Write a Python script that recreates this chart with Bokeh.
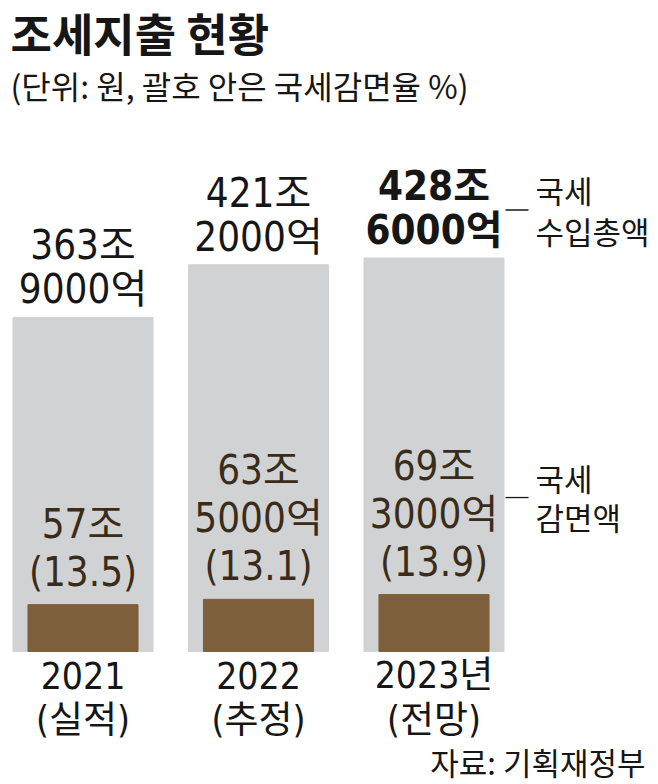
from bokeh.plotting import figure
from bokeh.models import Range1d, ColumnDataSource, Label
from bokeh.core.properties import value, field
from bokeh.embed import file_html
from bokeh.resources import INLINE

# ---- data ----
years = ["2021", "2022", "2023년"]
status = ["(실적)", "(추정)", "(전망)"]
revenue = [363.9, 421.2, 428.6]      # 국세 수입총액 (조 원)
reduction = [57.0, 63.5, 69.3]       # 국세 감면액 (조 원)
rate = [13.5, 13.1, 13.9]            # 국세감면율 (%)
highlight = [False, False, True]

# ---- layout ----
W, H = 658, 784
XS, XE = -0.4701, 3.2792
YS, YE = -144.9, 709.1
BS, BE = -161.8, 792.0
PXX = W / (XE - XS)
PXY = H / (YE - YS)
PXB = H / (BE - BS)

NARROW = "'Liberation Sans Narrow', 'DejaVu Sans Condensed', 'Noto Sans CJK KR'"
KR = "'Noto Sans CJK KR'"
GREY = "#d1d2d4"
BROWN = "#7e5f3b"
DARK = "#3a2c1a"
BLACK = "#161616"

p = figure(width=W, height=H, x_range=Range1d(XS, XE), y_range=Range1d(YS, YE),
           output_backend="svg", toolbar_location=None, min_border=0,
           x_axis_location=None, y_axis_location=None, outline_line_color=None,
           background_fill_color="white", border_fill_color="white")
p.extra_y_ranges = {"brown": Range1d(BS, BE)}
p.grid.visible = False

idx = list(range(len(years)))
p.vbar(x=idx, top=revenue, bottom=0, width=0.798, color=GREY)
p.vbar(x=idx, top=reduction, bottom=0, width=0.627, color=BROWN, y_range_name="brown")


def jo_eok(v):
    jo = int(v)
    eok = int(round((v - jo) * 10000))
    lines = [f"{jo}조"]
    if eok:
        lines.append(f"{eok}억")
    return lines


# upper labels (revenue)
ux, uy, ut, ud, us = [], [], [], [], []
for i, v in enumerate(revenue):
    lines = jo_eok(v)
    n = len(lines)
    for k, t in enumerate(lines):
        ux.append(i); uy.append(v); ut.append(t)
        ud.append(-28 - 44 * (n - 1 - k))
        us.append("bold" if highlight[i] else "normal")
p.text(x=field("x"), y=field("y"), text=field("t"), y_offset=field("d"),
       text_font_style=field("s"),
       source=ColumnDataSource(dict(x=ux, y=uy, t=ut, d=ud, s=us)),
       text_font=value(NARROW), text_font_size="40px", text_color=BLACK,
       text_align="center", text_baseline="middle")

# lower labels (reduction + rate)
lx, ly, lt, ld = [], [], [], []
for i, v in enumerate(reduction):
    lines = jo_eok(v) + [f"({rate[i]})"]
    n = len(lines)
    for k, t in enumerate(lines):
        lx.append(i); ly.append(v); lt.append(t)
        ld.append(-33 - 48 * (n - 1 - k))
p.text(x=field("x"), y=field("y"), text=field("t"), y_offset=field("d"),
       source=ColumnDataSource(dict(x=lx, y=ly, t=lt, d=ld)),
       text_font=value(NARROW), text_font_size="40px", text_color=DARK,
       text_align="center", text_baseline="middle", y_range_name="brown")

# year labels
p.text(x=idx, y=[0] * 3, text=years, y_offset=24,
       text_font=value(NARROW), text_font_size="37px", text_color=BLACK,
       text_align="center", text_baseline="middle")
p.text(x=idx, y=[0] * 3, text=status, y_offset=69,
       text_font=value(NARROW), text_font_size="37px", text_color=BLACK,
       text_align="center", text_baseline="middle")

# right-hand annotations
last = len(years) - 1
p.text(x=[last, last], y=[revenue[last]] * 2, text=["국세", "수입총액"],
       x_offset=101.5, y_offset=[-69, -28],
       text_font=value(KR), text_font_size="31px", text_color=BLACK,
       text_align="left", text_baseline="middle")
p.text(x=[last, last], y=[reduction[last]] * 2, text=["국세", "감면액"],
       x_offset=101.5, y_offset=[-117, -78],
       text_font=value(KR), text_font_size="31px", text_color=BLACK,
       text_align="left", text_baseline="middle", y_range_name="brown")

# leader dashes
x0 = last + 71.5 / PXX
x1 = last + 94.5 / PXX
p.segment(x0=[x0], x1=[x1], y0=[revenue[last] + 48 / PXY], y1=[revenue[last] + 48 / PXY],
          line_color=BLACK, line_width=1.3)
p.segment(x0=[x0], x1=[x1], y0=[reduction[last] + 97 / PXB], y1=[reduction[last] + 97 / PXB],
          line_color=BLACK, line_width=1.3, y_range_name="brown")

# titles and source
p.add_layout(Label(x=10, y=752, x_units="screen", y_units="screen", text="조세지출 현황",
                   text_font=KR, text_font_size="45px", text_font_style="bold",
                   text_color=BLACK, text_baseline="middle"))
p.add_layout(Label(x=10, y=700, x_units="screen", y_units="screen",
                   text="(단위: 원, 괄호 안은 국세감면율 %)",
                   text_font=KR, text_font_size="32px", text_color=BLACK,
                   text_baseline="middle"))
p.add_layout(Label(x=645, y=23, x_units="screen", y_units="screen",
                   text="자료: 기획재정부",
                   text_font=KR, text_font_size="31px", text_color=BLACK,
                   text_align="right", text_baseline="middle"))

open("out.html", "w").write(file_html(p, INLINE))
